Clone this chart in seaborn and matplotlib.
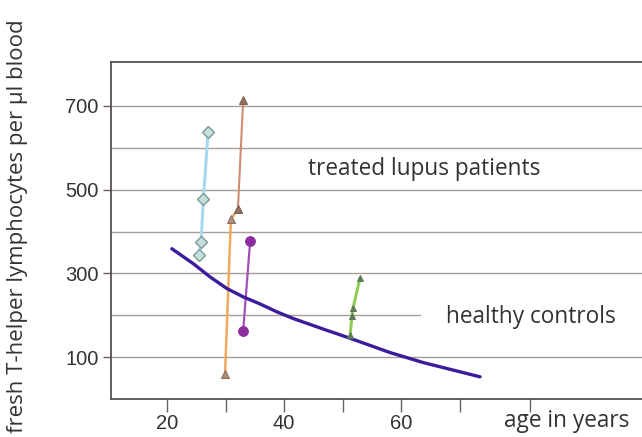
import matplotlib
matplotlib.use("Agg")
import matplotlib.pyplot as plt
import seaborn as sns

sns.set_theme(style="white")
plt.rcParams['font.family'] = ['Liberation Sans', 'DejaVu Sans']

# ---- data ----
curve_age = [20.8, 24.5, 27.4, 30.2, 33.0, 35.9, 38.8, 41.6, 46.7, 51.3, 58.1, 63.8, 69.5, 73.5]
curve_val = [359, 323, 291, 264, 244, 227, 208, 192, 167, 145, 111, 87, 67, 53]

blue_age = [27.0, 26.2, 25.8, 25.5]
blue_val = [638, 477, 376, 345]

orange_age = [29.9, 30.9, 32.1]
orange_val = [60, 430, 453]

brown_age = [32.1, 33.0]
brown_val = [453, 714]

purple_age = [33.0, 34.2]
purple_val = [163, 378]

green_age = [51.3, 51.6, 51.8, 53.0]
green_val = [153, 199, 218, 290]

x_ticks = [20, 30, 40, 50, 60, 70, 82]
x_tick_labels = ["20", "", "40", "", "60", "", ""]
y_ticks = [100, 300, 500, 700]
y_grid = [100, 200, 300, 400, 500, 600, 700]

W, H = 642, 437
fig = plt.figure(figsize=(W / 100, H / 100), dpi=100)
ax = fig.add_axes([111 / W, 1 - 399 / H, 1 - 111 / W, (399 - 62) / H])

ax.set_xlim(10.4, 101.2)
ax.set_ylim(0, 805)

grid_col = "#a89e98"
for g in y_grid:
    if g == 200:
        ax.plot([10.4, 63.2], [g, g], color=grid_col, lw=1.0, zorder=1)
    else:
        ax.axhline(g, color=grid_col, lw=1.0, zorder=1)

sns.lineplot(x=curve_age, y=curve_val, ax=ax, sort=False, color="#3a1c9c", lw=2.4, zorder=5)
sns.lineplot(x=blue_age, y=blue_val, ax=ax, sort=False, color="#a6d8ee", lw=2.2,
             marker="D", markersize=6, markerfacecolor="#c5e0da", markeredgecolor="#7a9a98",
             markeredgewidth=1.0, zorder=4)
sns.lineplot(x=orange_age, y=orange_val, ax=ax, sort=False, color="#f2a95c", lw=1.8,
             marker="^", markersize=6, markerfacecolor="#b09078", markeredgecolor="#8a7060",
             zorder=4)
sns.lineplot(x=brown_age, y=brown_val, ax=ax, sort=False, color="#cf8a70", lw=1.5,
             marker="^", markersize=6, markerfacecolor="#907060", markeredgecolor="#806050",
             zorder=4)
sns.lineplot(x=purple_age, y=purple_val, ax=ax, sort=False, color="#a050b8", lw=1.6,
             marker="o", markersize=7, markerfacecolor="#8c2ca0", markeredgecolor="#8c2ca0",
             zorder=4)
sns.lineplot(x=green_age, y=green_val, ax=ax, sort=False, color="#92cc58", lw=2.2,
             marker="^", markersize=5, markerfacecolor="#5f7a58", markeredgecolor="#5f7a58",
             zorder=6)

txt_font = ["Open Sans", "DejaVu Sans"]
ax.text((424 - 111) / 531, (398 - 168) / 337, "treated lupus patients", transform=ax.transAxes,
        ha="center", va="center", fontsize=16.3, color="#333333", family=txt_font)
ax.text((531 - 111) / 531, (398 - 316) / 337, "healthy controls", transform=ax.transAxes,
        ha="center", va="center", fontsize=16.3, color="#333333", family=txt_font)

for s in ["left", "bottom", "top"]:
    ax.spines[s].set_color("#5a5250")
    ax.spines[s].set_linewidth(1.3)
ax.spines["right"].set_visible(False)

ax.set_xticks(x_ticks)
ax.set_xticklabels(x_tick_labels, fontsize=14.5, color="#333333")
ax.set_yticks(y_ticks)
ax.set_yticklabels([str(v) for v in y_ticks], fontsize=14.5, color="#333333")
ax.tick_params(axis="both", which="major", bottom=True, left=True, direction="out",
               width=1.0, color="#6a6260")
ax.tick_params(axis="x", length=9, pad=2)
ax.tick_params(axis="y", length=6, pad=3)

fig.text(567 / W, 1 - 421 / H, "age in years", ha="center", va="center", fontsize=16.3,
         color="#333333", family=txt_font)
fig.text(18 / W, 1 - 226 / H, "fresh T-helper lymphocytes per \u00b5l blood", rotation=90,
         ha="center", va="center", fontsize=16, color="#333333", family=txt_font)

fig.savefig("out.png", dpi=100, facecolor="white")
